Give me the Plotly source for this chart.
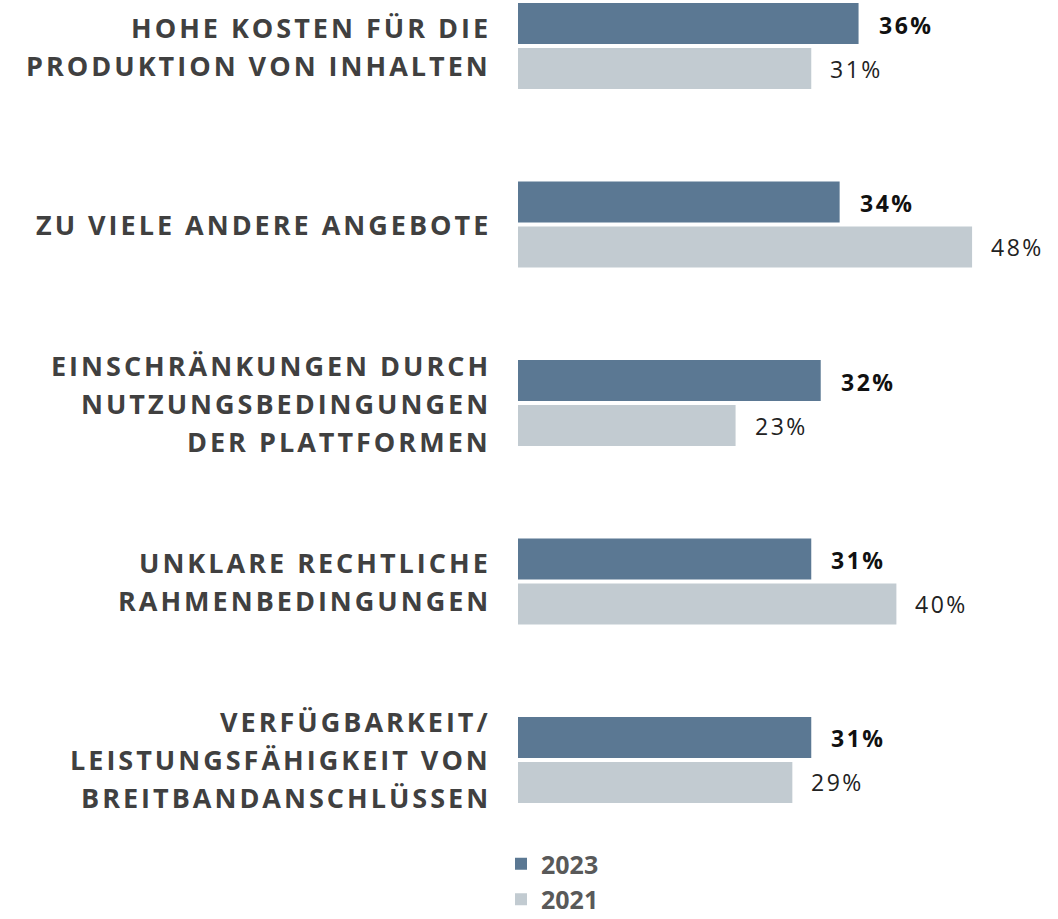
import plotly.graph_objects as go

categories = [
    "HOHE KOSTEN FÜR DIE<br>PRODUKTION VON INHALTEN",
    "ZU VIELE ANDERE ANGEBOTE",
    "EINSCHRÄNKUNGEN DURCH<br>NUTZUNGSBEDINGUNGEN<br>DER PLATTFORMEN",
    "UNKLARE RECHTLICHE<br>RAHMENBEDINGUNGEN",
    "VERFÜGBARKEIT/<br>LEISTUNGSFÄHIGKEIT VON<br>BREITBANDANSCHLÜSSEN",
]
values_2023 = [36, 34, 32, 31, 31]
values_2021 = [31, 48, 23, 40, 29]
series_names = ["2023", "2021"]

COLOR_2023 = "#5b7893"
COLOR_2021 = "#c2cbd1"
FONT = "Open Sans"

fig = go.Figure()
fig.add_trace(go.Bar(
    y=categories, x=values_2023, name=series_names[0], orientation="h",
    marker=dict(color=COLOR_2023, line=dict(width=0)),
))
fig.add_trace(go.Bar(
    y=categories, x=values_2021, name=series_names[1], orientation="h",
    marker=dict(color=COLOR_2021, line=dict(width=0)),
))

annotations = []
LINE_PITCH = 38
for cat in categories:
    lines = cat.split("<br>")
    n = len(lines)
    for i, line in enumerate(lines):
        annotations.append(dict(
            x=0, xref="paper", y=cat, yref="y",
            xanchor="right", yanchor="middle", xshift=-25,
            yshift=((n - 1) / 2 - i) * LINE_PITCH,
            text='<span style="letter-spacing:3px">' + line + "</span>",
            showarrow=False,
            font=dict(family=FONT, size=27, color="#404040", weight="bold"),
        ))

BAR_OFFSET = 22.5
for cat, v in zip(categories, values_2023):
    annotations.append(dict(
        x=v, xref="x", y=cat, yref="y", xanchor="left", yanchor="middle",
        xshift=18, yshift=BAR_OFFSET - 1,
        text='<span style="letter-spacing:2.5px">%d%%</span>' % v,
        showarrow=False,
        font=dict(family=FONT, size=23, color="#111111", weight="bold"),
    ))
for cat, v in zip(categories, values_2021):
    annotations.append(dict(
        x=v, xref="x", y=cat, yref="y", xanchor="left", yanchor="middle",
        xshift=17, yshift=-BAR_OFFSET,
        text='<span style="letter-spacing:2.5px">%d%%</span>' % v,
        showarrow=False,
        font=dict(family=FONT, size=23, color="#222222"),
    ))

fig.update_layout(
    width=1058, height=922,
    margin=dict(l=518, r=0, t=0, b=0),
    paper_bgcolor="white", plot_bgcolor="white",
    barmode="group", bargap=0.496, bargroupgap=0.089,
    xaxis=dict(range=[0, 540 / 9.46], visible=False, fixedrange=True),
    yaxis=dict(categoryorder="array", categoryarray=categories,
               range=[4.9076, -0.2577], visible=False, fixedrange=True),
    annotations=annotations,
    showlegend=True,
    legend=dict(
        x=-17 / 540, xanchor="left", xref="paper", y=0, yanchor="bottom",
        orientation="v", traceorder="normal",
        font=dict(family=FONT, size=25, color="#595959", weight="bold"),
        itemwidth=30, bgcolor="rgba(0,0,0,0)",
    ),
)

fig.write_html(
    "out.html",
    config={"displayModeBar": False},
    post_script="document.body.style.margin='0px';",
)
